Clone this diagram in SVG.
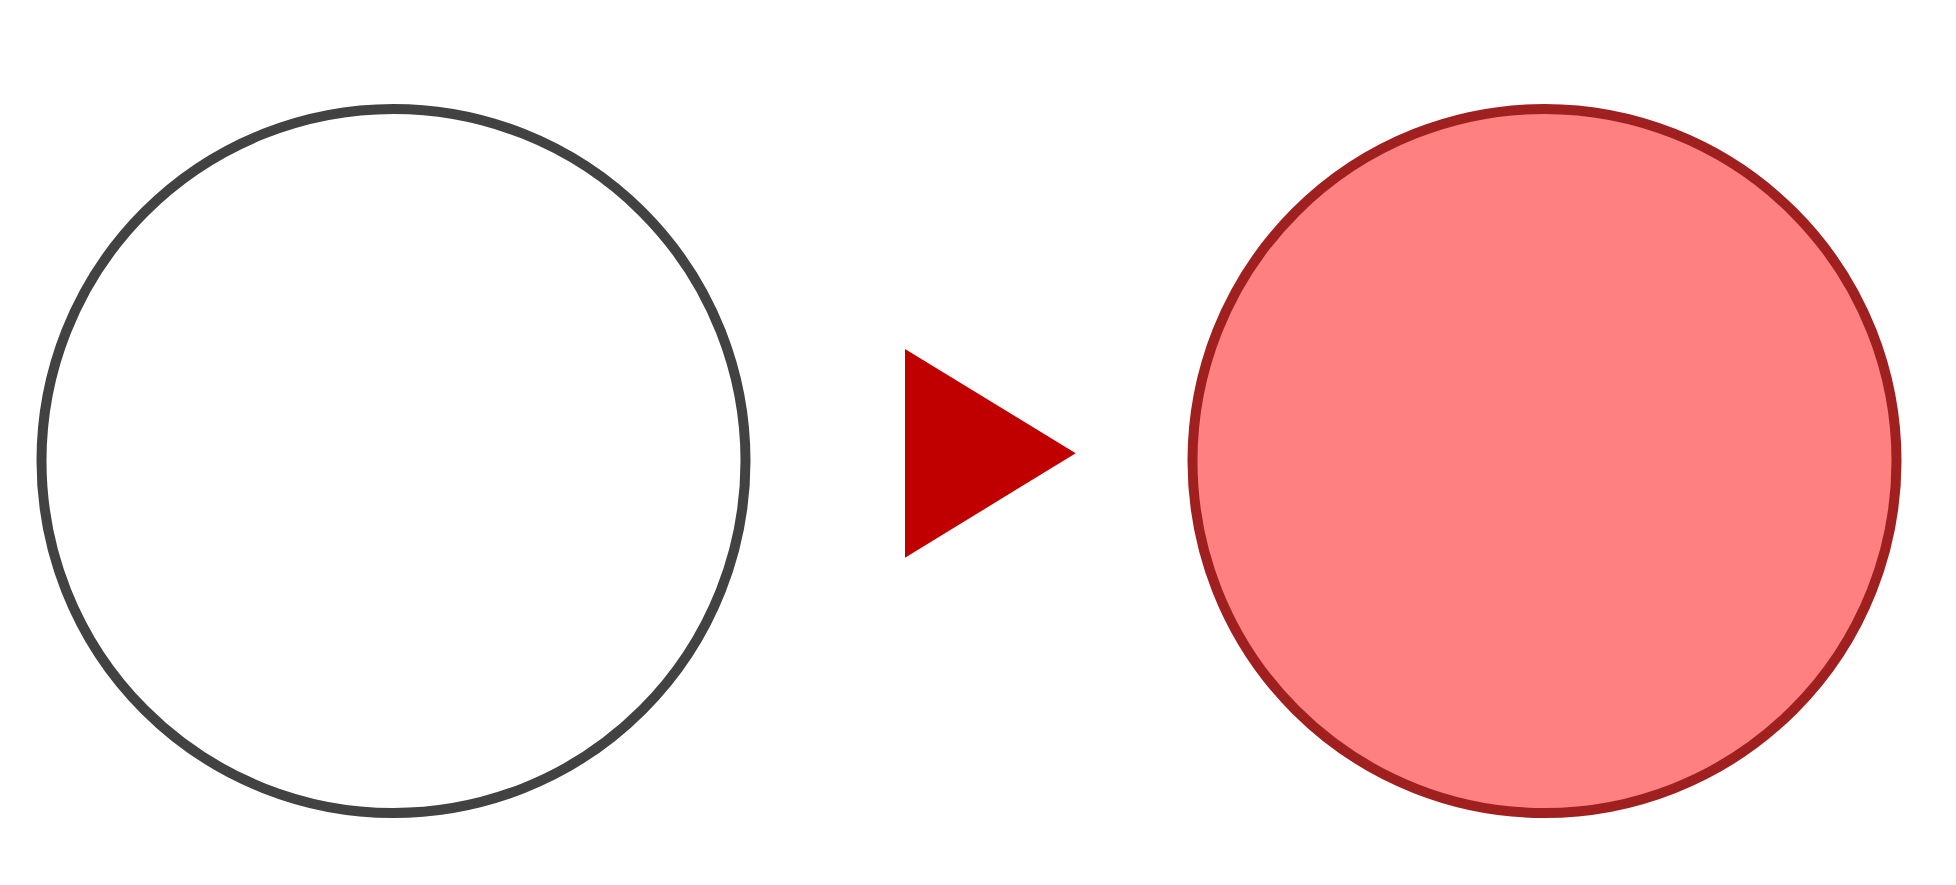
<svg xmlns="http://www.w3.org/2000/svg" width="1956" height="885" viewBox="0 0 1956 885">
<style>
.node{stroke-width:10}
</style>
<rect width="1956" height="885" fill="#ffffff"/>
<g id="node-left">
<circle class="node" cx="393.5" cy="461" r="352" fill="#ffffff" stroke="#424242"/>
</g>
<g id="node-right">
<circle class="node" cx="1544.5" cy="461" r="352" fill="#ff8080" stroke="#a02020"/>
</g>
<g id="connectors">
<polygon points="905,349 1075.7,453.3 905,557.7" fill="#c00000"/>
</g>
</svg>
